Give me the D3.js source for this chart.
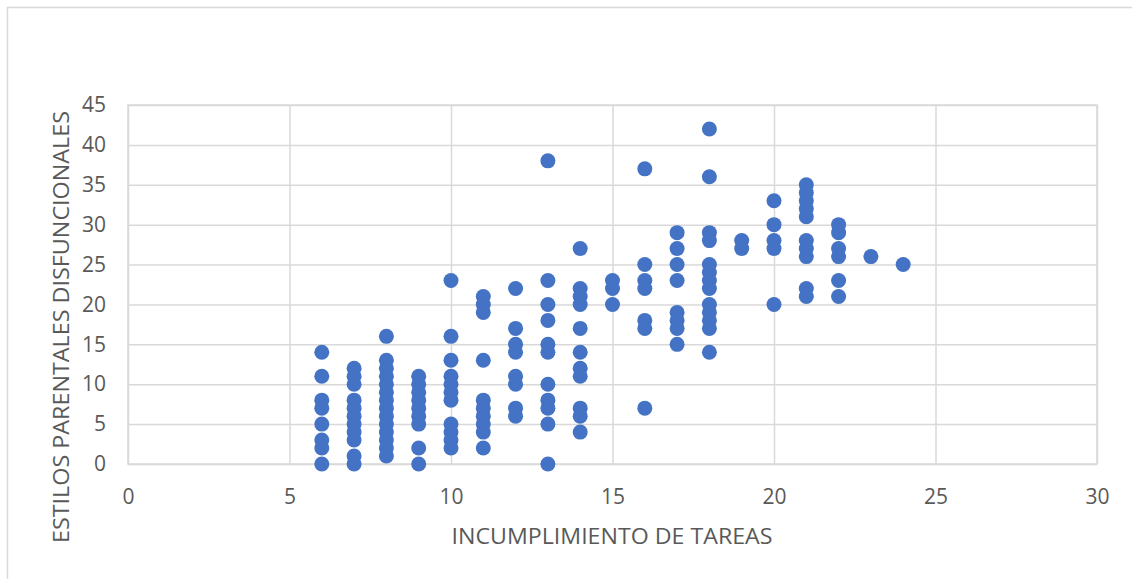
<!DOCTYPE html>
<html>
<head>
<meta charset="utf-8">
<script src="https://cdn.jsdelivr.net/npm/d3@7"></script>
<style>
  html, body { margin: 0; padding: 0; background: #fff; }
  svg { display: block; }
</style>
</head>
<body>
<svg id="chart" width="1132" height="579"></svg>
<script>
// ---- Data ----
const xTitle = "INCUMPLIMIENTO DE TAREAS";
const yTitle = "ESTILOS PARENTALES DISFUNCIONALES";
const xTicks = [0, 5, 10, 15, 20, 25, 30];
const yTicks = [0, 5, 10, 15, 20, 25, 30, 35, 40, 45];

// x value (incumplimiento de tareas) of each column of points
const incumplimiento = [6, 7, 8, 9, 10, 11, 12, 13, 14, 15, 16, 17, 18, 19, 20, 21, 22, 23, 24];
// y values (estilos parentales disfuncionales) observed at each x
const estilos6  = [14, 11, 8, 7, 5, 3, 2, 0];
const estilos7  = [12, 11, 10, 8, 7, 6, 5, 4, 3, 1, 0];
const estilos8  = [16, 13, 12, 11, 10, 9, 8, 7, 6, 5, 4, 3, 2, 1];
const estilos9  = [11, 10, 9, 8, 7, 6, 5, 2, 0];
const estilos10 = [23, 16, 13, 11, 10, 9, 8, 5, 4, 3, 2];
const estilos11 = [21, 20, 19, 13, 8, 7, 6, 5, 4, 2];
const estilos12 = [22, 17, 15, 14, 11, 10, 7, 6];
const estilos13 = [38, 23, 20, 18, 15, 14, 10, 8, 7, 5, 0];
const estilos14 = [27, 22, 21, 20, 17, 14, 12, 11, 7, 6, 4];
const estilos15 = [23, 22, 20];
const estilos16 = [37, 25, 23, 22, 18, 17, 7];
const estilos17 = [29, 27, 25, 23, 19, 18, 17, 15];
const estilos18 = [42, 36, 29, 28, 25, 24, 23, 22, 20, 19, 18, 17, 14];
const estilos19 = [28, 27];
const estilos20 = [33, 30, 28, 27, 20];
const estilos21 = [35, 34, 33, 32, 31, 28, 27, 26, 22, 21];
const estilos22 = [30, 29, 27, 26, 23, 21];
const estilos23 = [26];
const estilos24 = [25];
const estilosByColumn = [estilos6, estilos7, estilos8, estilos9, estilos10, estilos11, estilos12,
  estilos13, estilos14, estilos15, estilos16, estilos17, estilos18, estilos19, estilos20,
  estilos21, estilos22, estilos23, estilos24];

const points = [];
incumplimiento.forEach((xv, i) => estilosByColumn[i].forEach(yv => points.push({x: xv, y: yv})));

// ---- Layout ----
const svg = d3.select("#chart");
const plotLeft = 128, plotRight = 1097, plotTop = 105, plotBottom = 464;
const x = d3.scaleLinear().domain([0, 30]).range([plotLeft, plotRight]);
const y = d3.scaleLinear().domain([0, 45]).range([plotBottom, plotTop]);
const gridColor = "#d9d9d9";
const textColor = "#595959";
const font = '"Liberation Sans Narrow", "Open Sans", sans-serif';

// outer chart border
svg.append("rect").attr("x", 7.5).attr("y", 7.5).attr("width", 1140).attr("height", 600)
  .attr("fill", "#fff").attr("stroke", gridColor).attr("stroke-width", 1.5);

// gridlines via axes
const xGrid = svg.append("g").attr("transform", `translate(0,${plotBottom})`)
  .call(d3.axisBottom(x).tickValues(xTicks).tickSize(-(plotBottom - plotTop)).tickFormat(""));
const yGrid = svg.append("g").attr("transform", `translate(${plotLeft},0)`)
  .call(d3.axisLeft(y).tickValues(yTicks).tickSize(-(plotRight - plotLeft)).tickFormat(""));
[xGrid, yGrid].forEach(g => {
  g.select(".domain").remove();
  g.selectAll("line").attr("stroke", gridColor).attr("stroke-width", 1.5);
});

// plot area border
svg.append("rect").attr("x", plotLeft).attr("y", plotTop)
  .attr("width", plotRight - plotLeft).attr("height", plotBottom - plotTop)
  .attr("fill", "none").attr("stroke", gridColor).attr("stroke-width", 1.5);

// tick labels via axes
const xAxis = svg.append("g").attr("transform", `translate(0,${plotBottom})`)
  .call(d3.axisBottom(x).tickValues(xTicks).tickSize(0).tickPadding(25));
const yAxis = svg.append("g").attr("transform", `translate(${plotLeft},0)`)
  .call(d3.axisLeft(y).tickValues(yTicks).tickSize(0).tickPadding(22));
[xAxis, yAxis].forEach(g => {
  g.select(".domain").remove();
  g.selectAll("text").attr("fill", textColor).style("font-size", "21px").style("font-family", font);
});

// points
svg.append("g").selectAll("circle").data(points).join("circle")
  .attr("cx", d => x(d.x)).attr("cy", d => y(d.y)).attr("r", 7.5)
  .attr("fill", "#4472C4");

// axis titles
svg.append("text").attr("x", 612).attr("y", 544).attr("text-anchor", "middle")
  .attr("fill", textColor).style("font-family", font).style("font-size", "22px")
  .attr("textLength", 321).attr("lengthAdjust", "spacingAndGlyphs")
  .text(xTitle);
svg.append("text").attr("transform", "translate(69,327) rotate(-90)").attr("text-anchor", "middle")
  .attr("fill", textColor).style("font-family", font).style("font-size", "22px")
  .attr("textLength", 432).attr("lengthAdjust", "spacingAndGlyphs")
  .text(yTitle);
</script>
</body>
</html>
